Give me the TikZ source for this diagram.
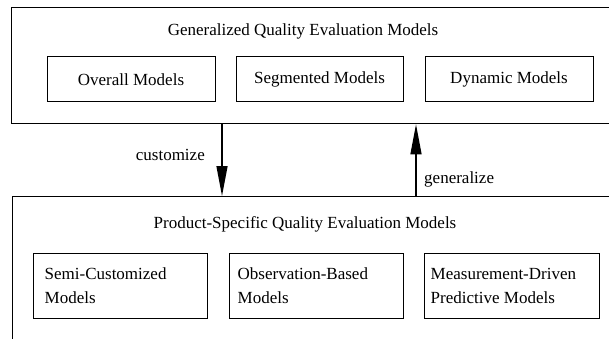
\documentclass[tikz,border=0pt]{standalone}
\usepackage{fontspec}
\setmainfont{Liberation Serif}
\usetikzlibrary{arrows.meta,positioning}
\tikzset{
  outerbox/.style={draw, line width=1.3pt, rectangle, anchor=north west, inner sep=0pt},
  modelbox/.style={draw, line width=1pt, rectangle, inner sep=0pt},
  flowarrow/.style={line width=1.3pt, -{Triangle[length=30pt,width=11pt]}},
  lbl/.style={font=\fontsize{17}{24}\selectfont, inner sep=0pt},
}
\begin{document}
\begin{tikzpicture}[x=1pt,y=-1pt]
\useasboundingbox (0,0) rectangle (609,339);
\clip (0,0) rectangle (609,339);
% outer boxes (extend beyond the frame on the right / bottom)
\node[outerbox, minimum width=620pt, minimum height=116pt] (top) at (11,7) {};
\node[outerbox, minimum width=620pt, minimum height=160pt] (bot) at (12,196) {};
\node[lbl] (toptitle) at (303,31) {Generalized Quality Evaluation Models};
\node[lbl] (bottitle) at (305,224) {Product-Specific Quality Evaluation Models};
% upper model boxes
\node[modelbox, minimum width=168pt, minimum height=45pt] (overall) at (131,79.5) {};
\node[lbl] at (overall) {Overall Models};
\node[modelbox, minimum width=167pt, minimum height=45pt] (segmented) at (319.5,79.5) {};
\node[lbl] at (segmented) {Segmented Models};
\node[modelbox, minimum width=168pt, minimum height=45pt] (dynamic) at (509,79.5) {};
\node[lbl] at (dynamic) {Dynamic Models};
% lower model boxes
\node[modelbox, minimum width=174pt, minimum height=65pt] (semi) at (120,285.5) {};
\node[lbl, anchor=west, align=left] at ([xshift=12pt]semi.west) {Semi-Customized\\Models};
\node[modelbox, minimum width=174pt, minimum height=65pt] (obs) at (316,285.5) {};
\node[lbl, anchor=west, align=left] at ([xshift=9pt]obs.west) {Observation-Based\\Models};
\node[modelbox, minimum width=175pt, minimum height=65pt] (meas) at (511.5,285.5) {};
\node[lbl, anchor=west, align=left] at ([xshift=7pt]meas.west) {Measurement-Driven\\Predictive Models};
% connectors
\coordinate (cx) at (222,0);
\coordinate (gx) at (416,0);
\draw[flowarrow] (top.south -| cx) -- (bot.north -| cx);
\draw[flowarrow] (bot.north -| gx) -- (top.south -| gx);
\node[lbl, anchor=east] (cust) at (205,155) {customize};
\node[lbl, anchor=west] (gen) at (424,179) {generalize};
\end{tikzpicture}
\end{document}
